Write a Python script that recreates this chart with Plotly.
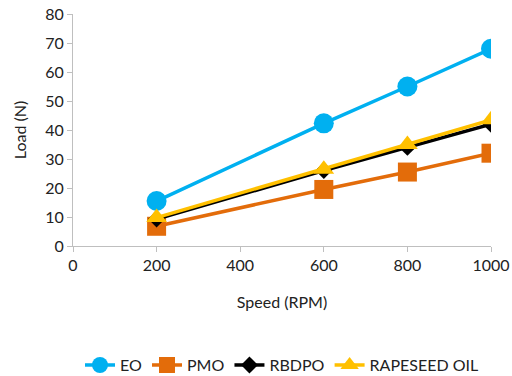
import plotly.graph_objects as go

speed = [200, 600, 800, 1000]
eo = [15.5, 42.3, 55, 68]
pmo = [6.8, 19.5, 25.5, 32]
rbdpo = [9.3, 26, 34, 42]
rapeseed = [9.8, 26.5, 35, 43.5]

series = [
    ("EO", eo, "#00B0F0", "circle", 20),
    ("PMO", pmo, "#E36C0A", "square", 19),
    ("RBDPO", rbdpo, "#000000", "diamond", 13),
    ("RAPESEED OIL", rapeseed, "#FFC000", "triangle-up", 18),
]

fig = go.Figure()
for name, vals, color, sym, sz in series:
    fig.add_trace(go.Scatter(
        x=speed, y=vals, name=name, mode="lines+markers",
        line=dict(color=color, width=3.5),
        marker=dict(symbol=sym, size=sz, color=color, line=dict(width=0)),
    ))

font = "Lato, 'Open Sans', sans-serif"
fig.update_layout(
    width=512, height=376,
    margin=dict(l=73, r=21, t=14, b=130, autoexpand=False),
    paper_bgcolor="white", plot_bgcolor="white",
    font=dict(family=font, size=16, color="#222222"),
    showlegend=True,
    legend=dict(orientation="h", x=0.5, xanchor="center", y=-0.44, yanchor="top",
                font=dict(size=16), itemwidth=30, tracegroupgap=0),
    xaxis=dict(range=[0, 1000], tickvals=[0, 200, 400, 600, 800, 1000],
               showgrid=False, showline=True, linecolor="#BFBFBF", linewidth=1,
               ticks="outside", ticklen=5, tickcolor="#BFBFBF",
               title=dict(text="Speed (RPM)", standoff=23, font=dict(size=16)),
               zeroline=False, automargin=False),
    yaxis=dict(range=[0, 80], dtick=10, showgrid=False, showline=True,
               linecolor="#BFBFBF", linewidth=1, ticks="outside", ticklen=5,
               tickcolor="#BFBFBF",
               title=dict(text="Load (N)", standoff=14, font=dict(size=16)),
               zeroline=False, automargin=False),
)
fig.write_html("out.html")
